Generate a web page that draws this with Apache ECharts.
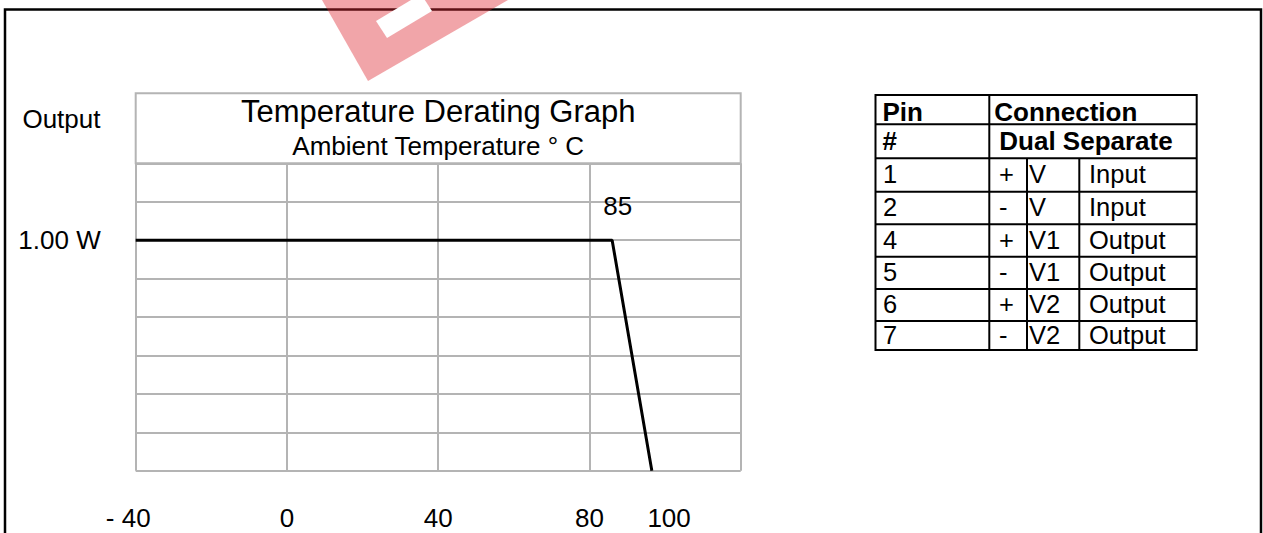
<!DOCTYPE html>
<html><head><meta charset="utf-8">
<script src="https://cdn.jsdelivr.net/npm/echarts@6/dist/echarts.min.js"></script>
<style>html,body{margin:0;padding:0;background:#fff}#c{width:1263px;height:533px}</style>
</head><body><div id="c"></div><script>
const FONT = '"Liberation Sans", Arial, Helvetica, sans-serif';
const TITLE = 'Temperature Derating Graph';
const SUBTITLE = 'Ambient Temperature ° C';
const Y_NAME = 'Output';
const TEMP_MIN = -40, TEMP_MAX = 120, TEMP_STEP = 40;
const TEMP_TICK_LABELS = [-40, 0, 40, 80, 100];
const POWER_MIN = 0, POWER_MAX = 8 / 6, POWER_STEP = 1 / 6;
const POWER_TICK_LABELS = [1];
const derateTemp = [-40, 86, 96.5];
const deratePower = [1.0, 1.0, 0];
const CORNER_LABEL = '85';
const tableHeader = [['Pin', 'Connection'], ['#', 'Dual Separate']];
const pinNumbers = ['1', '2', '4', '5', '6', '7'];
const pinSigns = ['+', '-', '+', '-', '+', '-'];
const pinRails = ['V', 'V', 'V1', 'V1', 'V2', 'V2'];
const pinFunctions = ['Input', 'Input', 'Output', 'Output', 'Output', 'Output'];

const GRID_GRAY = '#b4b4b4';
const chart = echarts.init(document.getElementById('c'), null, {renderer: 'svg'});

// table geometry
const rowY = [95, 124.3, 158.3, 191.7, 224.3, 256.7, 289, 321, 350];
const colX = [875.5, 989.3, 1027, 1079.3, 1196.7];
const tableEls = [];
const line = (x1, y1, x2, y2) => ({type: 'line', z: 20, shape: {x1, y1, x2, y2}, style: {stroke: '#000', lineWidth: 2}});
tableEls.push({type: 'rect', z: 20, shape: {x: colX[0], y: rowY[0], width: colX[4] - colX[0], height: rowY[8] - rowY[0]}, style: {fill: 'none', stroke: '#000', lineWidth: 2}});
for (let i = 1; i < rowY.length - 1; i++) tableEls.push(line(colX[0], rowY[i], colX[4], rowY[i]));
tableEls.push(line(colX[1], rowY[0], colX[1], rowY[8]));
tableEls.push(line(colX[2], rowY[2], colX[2], rowY[8]));
tableEls.push(line(colX[3], rowY[2], colX[3], rowY[8]));
const txt = (text, x, y, bold, size, align) => ({type: 'text', z: 21, style: {text, x, y, fill: '#000', fontSize: size, fontFamily: FONT, fontWeight: bold ? 'bold' : 'normal', align: align || 'left', verticalAlign: 'middle'}});
const headerY = [112, 140.5];
const headerX = [[882.5, 994.3], [882.5, 999.3]];
tableHeader.forEach((r, i) => { tableEls.push(txt(r[0], headerX[i][0], headerY[i], true, 26)); tableEls.push(txt(r[1], headerX[i][1], headerY[i], true, 26)); });
pinNumbers.forEach((p, i) => {
  const cy = (rowY[i + 2] + rowY[i + 3]) / 2 - 1;
  tableEls.push(txt(p, 883, cy, false, 25.5));
  tableEls.push(txt(pinSigns[i], 999, cy, false, 25.5));
  tableEls.push(txt(pinRails[i], 1029, cy, false, 25.5));
  tableEls.push(txt(pinFunctions[i], 1089, cy, false, 25.5));
});

const option = {
  animation: false,
  backgroundColor: '#fff',
  textStyle: {fontFamily: FONT},
  title: {
    text: TITLE, subtext: SUBTITLE,
    left: 438.2, top: 95.5, textAlign: 'center', padding: 0, itemGap: 6,
    textStyle: {fontSize: 31, fontWeight: 'normal', color: '#000', fontFamily: FONT, lineHeight: 31},
    subtextStyle: {fontSize: 26, color: '#000', fontFamily: FONT, lineHeight: 26}
  },
  grid: {left: 135.7, right: 522.3, top: 163.3, bottom: 62.3, containLabel: false},
  xAxis: {
    type: 'value', min: TEMP_MIN, max: TEMP_MAX, interval: TEMP_STEP,
    axisLine: {show: false}, axisTick: {show: false},
    splitLine: {show: true, lineStyle: {color: GRID_GRAY, width: 2}},
    axisLabel: {
      customValues: TEMP_TICK_LABELS, margin: 34, fontSize: 26, color: '#000', fontFamily: FONT,
      formatter: v => v < 0 ? '{neg|- ' + Math.abs(v) + '}' : (v === 100 ? '{hund|' + v + '}' : String(v)),
      rich: {
        neg: {fontSize: 26, color: '#000', fontFamily: FONT, padding: [0, 15, 0, 0]},
        hund: {fontSize: 26, color: '#000', fontFamily: FONT, padding: [0, 0, 0, 8]}
      }
    }
  },
  yAxis: {
    type: 'value', min: POWER_MIN, max: POWER_MAX, interval: POWER_STEP,
    axisLine: {show: false}, axisTick: {show: false},
    splitLine: {show: true, lineStyle: {color: GRID_GRAY, width: 2}},
    axisLabel: {
      customValues: POWER_TICK_LABELS, margin: 35, fontSize: 26, color: '#000', fontFamily: FONT,
      formatter: v => v.toFixed(2) + ' W'
    }
  },
  series: [{
    type: 'line',
    data: derateTemp.map((t, i) => [t, deratePower[i]]),
    symbol: 'none',
    lineStyle: {color: '#000', width: 3},
    z: 5,
    markPoint: {
      symbol: 'circle', symbolSize: 0, silent: true,
      label: {show: true, formatter: CORNER_LABEL, position: 'top', distance: 21.5, offset: [5.5, 0], fontSize: 26, color: '#000', fontFamily: FONT},
      data: [{coord: [derateTemp[1], deratePower[1]]}]
    }
  }],
  graphic: [
    {type: 'rect', z: 1, shape: {x: 135.7, y: 93.3, width: 605, height: 70}, style: {fill: 'none', stroke: GRID_GRAY, lineWidth: 2}},
    {type: 'text', z: 21, style: {text: Y_NAME, x: 100.5, y: 118.5, fill: '#000', fontSize: 26, fontFamily: FONT, align: 'right', verticalAlign: 'middle'}},
    {type: 'rect', z: 30, shape: {x: 5, y: 9.5, width: 1256, height: 560}, style: {fill: 'none', stroke: '#000', lineWidth: 2.5}},
    {type: 'polygon', z: 40, shape: {points: [[322, 0], [368, 81], [508, 0]]}, style: {fill: 'rgba(222,40,50,0.42)'}},
    {type: 'polygon', z: 41, shape: {points: [[376, 21], [387, 38], [432, 11], [421, -6]]}, style: {fill: '#fff'}}
  ].concat(tableEls)
};
chart.setOption(option);
</script></body></html>
